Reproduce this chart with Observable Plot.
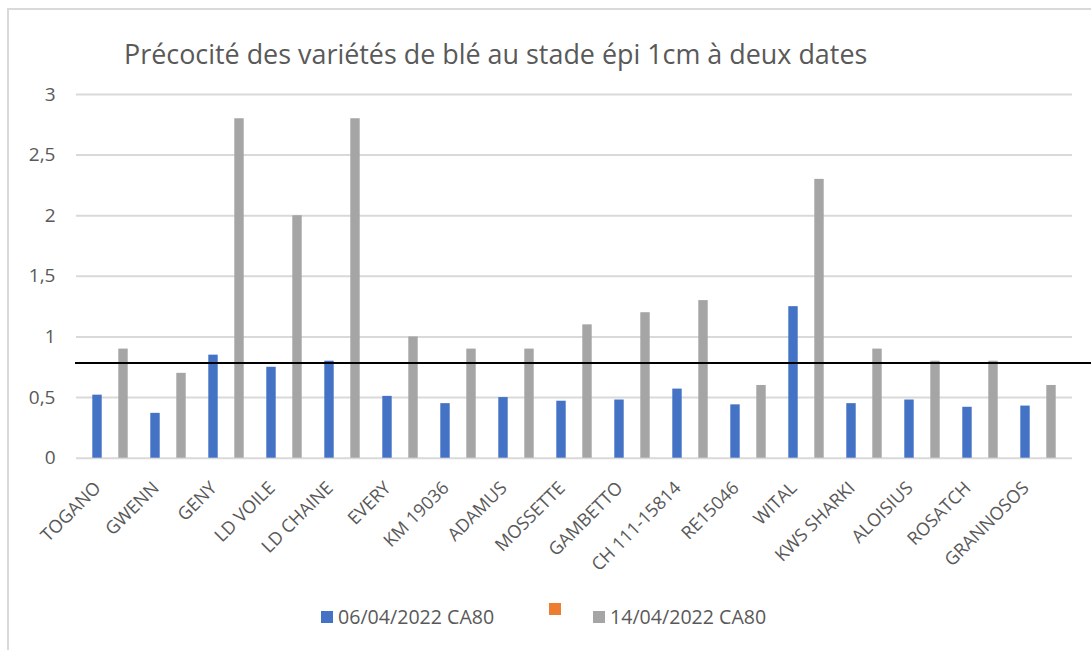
<!DOCTYPE html>
<html>
<head>
<meta charset="utf-8">
<script src="https://cdn.jsdelivr.net/npm/d3@7"></script>
<script src="https://cdn.jsdelivr.net/npm/@observablehq/plot@0.6"></script>
<style>
  html, body { margin: 0; padding: 0; background: #fff; overflow: hidden; }
  #wrap { position: relative; width: 1091px; height: 650px; font-family: "Open Sans", sans-serif; color: #595959; }
  #frame { position: absolute; left: 7px; top: 8px; width: 1200px; height: 800px; border: 2px solid #d9d9d9; pointer-events: none; }
  #title { height: 80px; box-sizing: border-box; padding-left: 124px; padding-top: 36px; font-size: 26.9px; line-height: 36px; white-space: nowrap; }
  #legend { position: relative; height: 50px; font-size: 19.6px; }
  .item { position: absolute; top: 3px; display: flex; align-items: center; white-space: nowrap; line-height: 28px; }
  .sw { width: 12px; height: 12px; display: inline-block; margin-right: 5px; }
  svg { display: block; }
</style>
</head>
<body>
<div id="wrap">
  <div id="frame"></div>
  <div id="title">Précocité des variétés de blé au stade épi 1cm à deux dates</div>
  <div id="chart"></div>
  <div id="legend"></div>
</div>
<script>
const categories = ["TOGANO","GWENN","GENY","LD VOILE","LD CHAINE","EVERY","KM 19036","ADAMUS","MOSSETTE","GAMBETTO","CH 111-15814","RE15046","WITAL","KWS SHARKI","ALOISIUS","ROSATCH","GRANNOSOS"];
const serie1 = [0.52,0.37,0.85,0.75,0.80,0.51,0.45,0.50,0.47,0.48,0.57,0.44,1.25,0.45,0.48,0.42,0.43];
const serie2 = [0.9,0.7,2.8,2.0,2.8,1.0,0.9,0.9,1.1,1.2,1.3,0.6,2.3,0.9,0.8,0.8,0.6];
const seriesNames = ["06/04/2022 CA80", "", "14/04/2022 CA80"];
const seriesColors = ["#4472c4", "#ed7d31", "#a5a5a5"];
const yTicks = [0, 0.5, 1, 1.5, 2, 2.5, 3];
const seuil = 0.785;

const data = categories.map((c, i) => ({cat: c, v1: serie1[i], v2: serie2[i]}));

const bw = (1091 - 76 - 19) / categories.length;
const ins = (bw - 10) / 2;

const plot = Plot.plot({
  width: 1091,
  height: 520,
  marginLeft: 76,
  marginRight: 19,
  marginTop: 14,
  marginBottom: 142.3,
  style: {fontFamily: "'Open Sans', sans-serif", fontSize: "19px", color: "#595959", background: "transparent"},
  x: {domain: categories, padding: 0, label: null},
  y: {domain: [0, 3], label: null},
  marks: [
    Plot.ruleY(yTicks, {stroke: "#d9d9d9", strokeWidth: 2}),
    Plot.barY(data, {x: "cat", y: "v1", fill: seriesColors[0], dx: -13, insetLeft: ins, insetRight: ins}),
    Plot.barY(data, {x: "cat", y: "v2", fill: seriesColors[2], dx: 13, insetLeft: ins, insetRight: ins}),
    Plot.ruleY([seuil], {stroke: "#000", strokeWidth: 2, insetLeft: -1, insetRight: -19}),
    Plot.axisY({ticks: yTicks, tickSize: 0, tickPadding: 21, label: null, tickFormat: d => String(d).replace(".", ",")}),
    Plot.axisX({tickRotate: -45, tickSize: 0, tickPadding: 10, label: null, fontSize: 18, dx: -12.6, dy: 16.8})
  ]
});
document.getElementById("chart").appendChild(plot);

const legend = document.getElementById("legend");
const lefts = [321, 549, 593];
seriesNames.forEach((name, i) => {
  const it = document.createElement("div");
  it.className = "item";
  it.style.left = lefts[i] + "px";
  const sw = document.createElement("span");
  sw.className = "sw";
  sw.style.background = seriesColors[i];
  it.appendChild(sw);
  if (name) {
    const t = document.createElement("span");
    t.textContent = name;
    it.appendChild(t);
  }
  legend.appendChild(it);
});
</script>
</body>
</html>
